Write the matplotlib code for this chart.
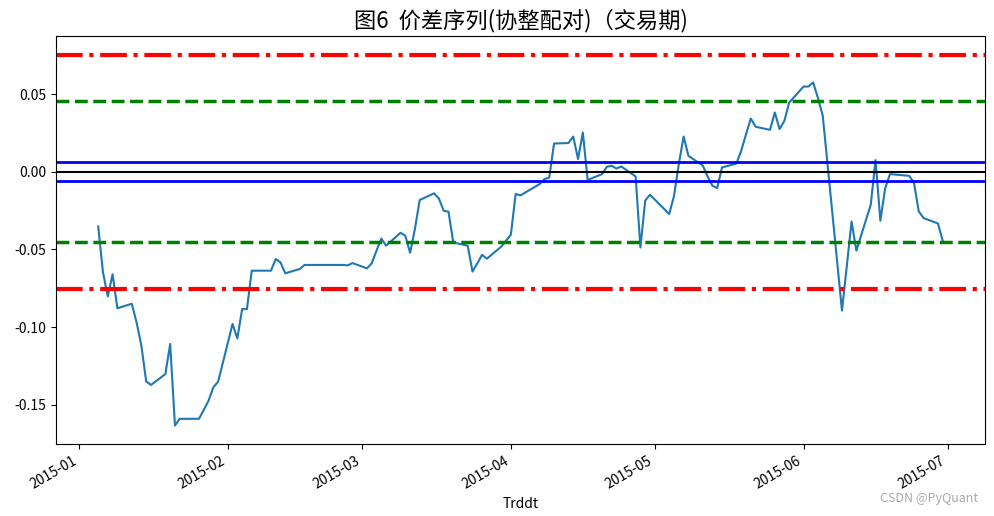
"""价差序列(协整配对)（交易期）: spread with trading thresholds."""
import matplotlib
matplotlib.use("Agg")
import matplotlib.pyplot as plt
import pandas as pd

plt.rcParams["font.family"] = ["Noto Sans CJK SC", "DejaVu Sans"]
plt.rcParams["axes.unicode_minus"] = False

# 2015 A-share trading days (Jan 5 - Jun 30), holidays removed
holidays = ["2015-02-18", "2015-02-19", "2015-02-20", "2015-02-23", "2015-02-24",
            "2015-04-06", "2015-05-01", "2015-06-22"]
trddt = pd.bdate_range("2015-01-05", "2015-06-30").drop(pd.to_datetime(holidays))

spread_jan = [-0.0352, -0.0648, -0.0803, -0.0660, -0.0879, -0.0850, -0.0970, -0.1120,
              -0.1350, -0.1373, -0.1303, -0.1109, -0.1634, -0.1591, -0.1591, -0.1591,
              -0.1534, -0.1474, -0.1388, -0.1351]
spread_feb = [-0.0980, -0.1073, -0.0884, -0.0884, -0.0637, -0.0637, -0.0637, -0.0562,
              -0.0584, -0.0654, -0.0626, -0.0600, -0.0600, -0.0603, -0.0588]
spread_mar = [-0.0622, -0.0590, -0.0508, -0.0430, -0.0476, -0.0393, -0.0412, -0.0522,
              -0.0369, -0.0182, -0.0139, -0.0172, -0.0251, -0.0257, -0.0455, -0.0476,
              -0.0643, -0.0590, -0.0535, -0.0560, -0.0482, -0.0444]
spread_apr = [-0.0405, -0.0143, -0.0152, -0.0079, -0.0047, -0.0037, 0.0182, 0.0185,
              0.0227, 0.0082, 0.0253, -0.0053, -0.0015, 0.0032, 0.0039, 0.0021,
              0.0034, -0.0030, -0.0488, -0.0185, -0.0148]
spread_may = [-0.0272, -0.0155, 0.0050, 0.0227, 0.0103, 0.0040, -0.0030, -0.0090,
              -0.0105, 0.0028, 0.0053, 0.0135, 0.0240, 0.0343, 0.0290, 0.0270,
              0.0382, 0.0275, 0.0328, 0.0446]
spread_jun = [0.0549, 0.0549, 0.0575, 0.0475, 0.0360, -0.0580, -0.0894, -0.0610,
              -0.0320, -0.0508, -0.0212, 0.0075, -0.0315, -0.0107, -0.0015, -0.0026,
              -0.0069, -0.0255, -0.0298, -0.0333, -0.0444]

spread = pd.Series(spread_jan + spread_feb + spread_mar + spread_apr + spread_may + spread_jun,
                   index=trddt, name="spread")

mu = 0.0
level_close = 0.0062   # 0.2 sigma
level_open = 0.0453    # 1.5 sigma
level_stop = 0.0755    # 2.5 sigma

fig = plt.figure(figsize=(9.94, 5.16), dpi=100)
ax = fig.add_axes([0.0563, 0.1395, 0.9346, 0.7907])

ax.plot(spread.index, spread.values, color="C0", lw=1.5)
ax.axhline(mu, color="k", lw=1.5)
ax.axhline(mu + level_close, color="b", lw=2)
ax.axhline(mu - level_close, color="b", lw=2)
ax.axhline(mu + level_open, color="g", lw=2.5, ls="--")
ax.axhline(mu - level_open, color="g", lw=2.5, ls="--")
ax.axhline(mu + level_stop, color="r", lw=3, ls="-.")
ax.axhline(mu - level_stop, color="r", lw=3, ls="-.")

ax.set_title("图6  价差序列(协整配对)（交易期)", fontsize=16)
ax.set_xlabel("Trddt")
for lab in ax.get_xticklabels():
    lab.set_rotation(30)
    lab.set_ha("right")

fig.text(0.984, 0.033, "CSDN @PyQuant", ha="right", va="center",
         color="#aaaaaa", fontsize=9)

fig.savefig("out.png", dpi=100)
